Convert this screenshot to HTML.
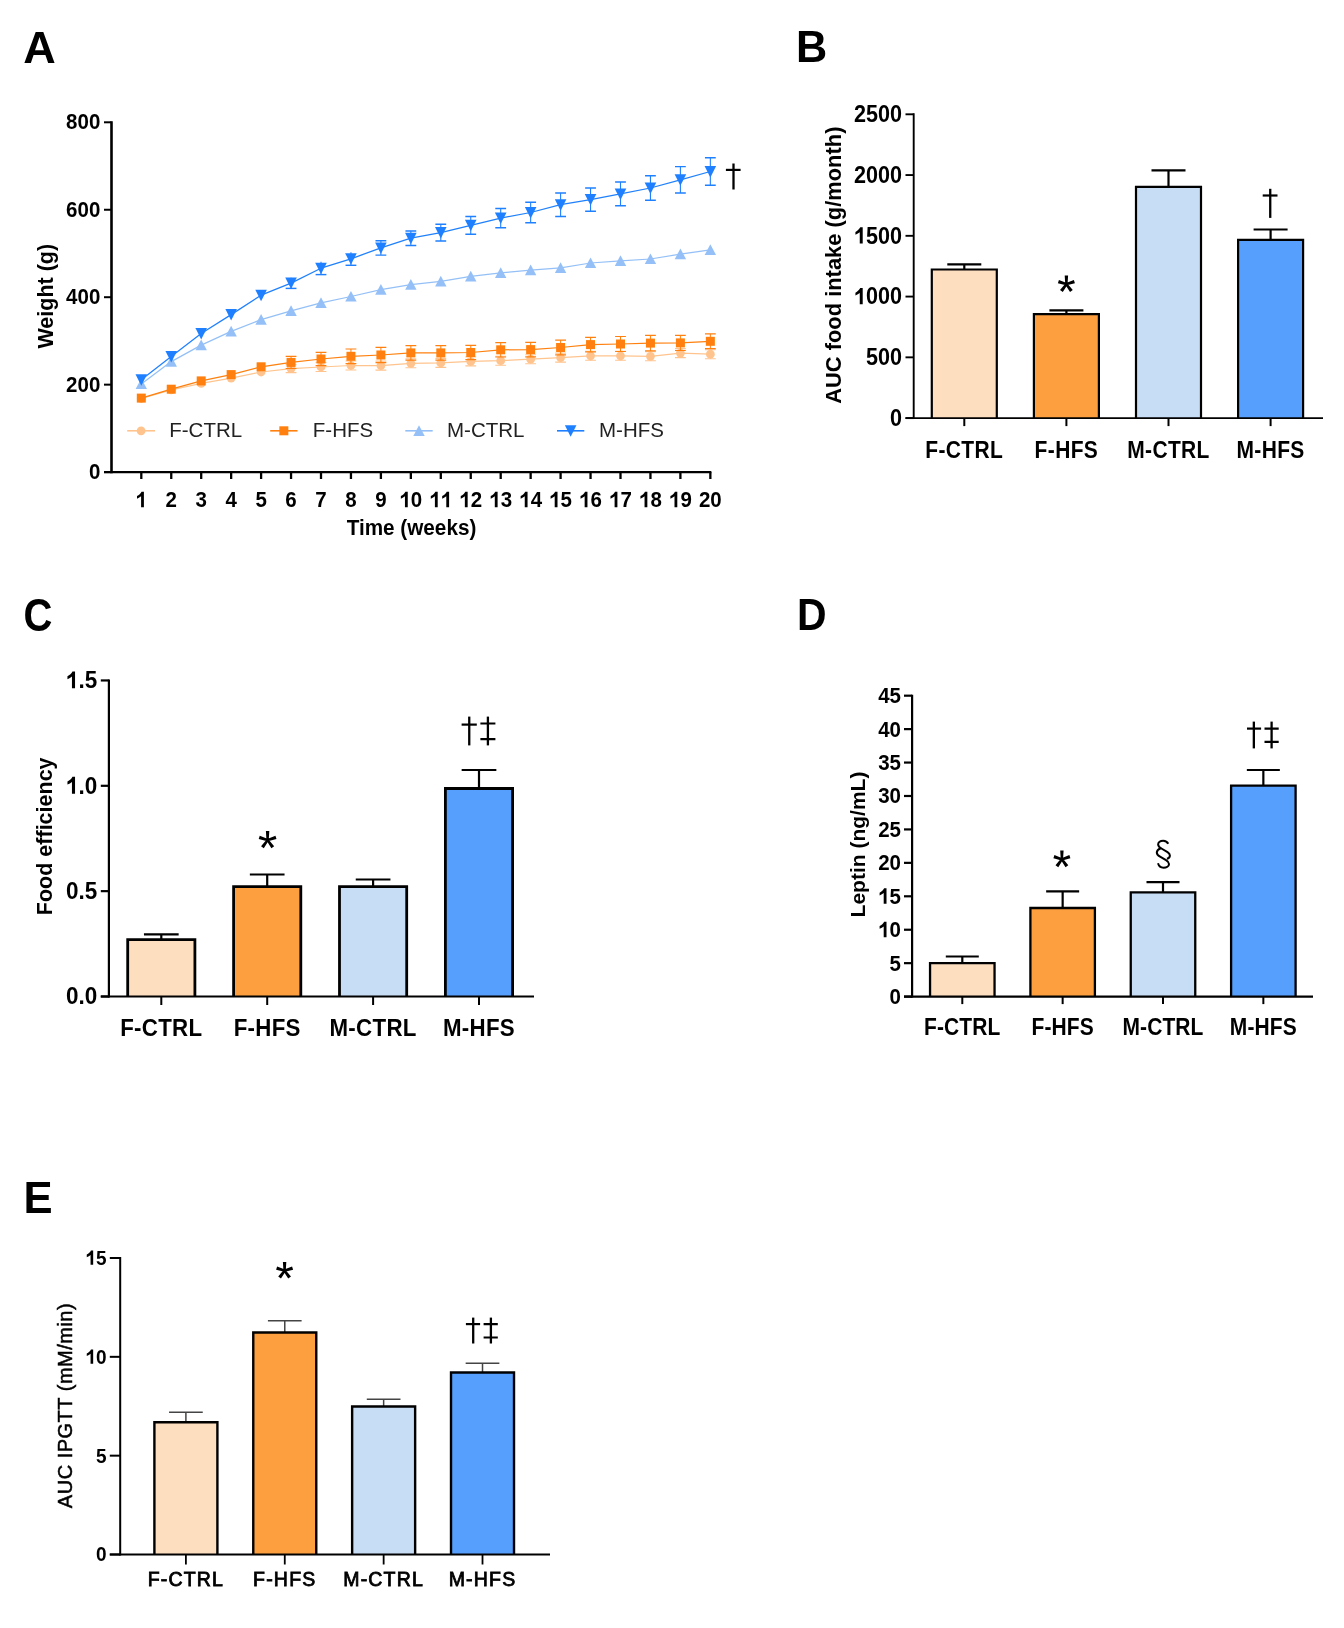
<!DOCTYPE html>
<html><head><meta charset="utf-8"><style>
html,body{margin:0;padding:0;background:#fff;}
svg{display:block;filter:blur(0.4px);}
text{font-family:"Liberation Sans", sans-serif;}
</style></head><body>
<svg width="1344" height="1628" viewBox="0 0 1344 1628">
<rect width="1344" height="1628" fill="#fff"/>
<text x="23.3" y="62.6" font-size="45" font-weight="bold" text-anchor="start" fill="#000">A</text>
<line x1="111.5" y1="121.3" x2="111.5" y2="473.3" stroke="#000" stroke-width="2.6" stroke-linecap="butt"/>
<line x1="104" y1="472.1" x2="711.35" y2="472.1" stroke="#000" stroke-width="2.3" stroke-linecap="butt"/>
<line x1="104" y1="472.1" x2="111.5" y2="472.1" stroke="#000" stroke-width="2" stroke-linecap="butt"/>
<text x="88.9" y="478.5" font-size="20.5" font-weight="bold" text-anchor="start" fill="#000" transform="translate(88.9 471.12) scale(1 1.08) translate(-88.9 -471.12)">0</text>
<line x1="104" y1="384.65" x2="111.5" y2="384.65" stroke="#000" stroke-width="2" stroke-linecap="butt"/>
<text x="66.11" y="391.05" font-size="20.5" font-weight="bold" text-anchor="start" fill="#000" transform="translate(66.11 383.67) scale(1 1.08) translate(-66.11 -383.67)">2</text>
<text x="77.5" y="391.05" font-size="20.5" font-weight="bold" text-anchor="start" fill="#000" transform="translate(77.5 383.67) scale(1 1.08) translate(-77.5 -383.67)">0</text>
<text x="88.9" y="391.05" font-size="20.5" font-weight="bold" text-anchor="start" fill="#000" transform="translate(88.9 383.67) scale(1 1.08) translate(-88.9 -383.67)">0</text>
<line x1="104" y1="297.2" x2="111.5" y2="297.2" stroke="#000" stroke-width="2" stroke-linecap="butt"/>
<text x="66.11" y="303.6" font-size="20.5" font-weight="bold" text-anchor="start" fill="#000" transform="translate(66.11 296.22) scale(1 1.08) translate(-66.11 -296.22)">4</text>
<text x="77.5" y="303.6" font-size="20.5" font-weight="bold" text-anchor="start" fill="#000" transform="translate(77.5 296.22) scale(1 1.08) translate(-77.5 -296.22)">0</text>
<text x="88.9" y="303.6" font-size="20.5" font-weight="bold" text-anchor="start" fill="#000" transform="translate(88.9 296.22) scale(1 1.08) translate(-88.9 -296.22)">0</text>
<line x1="104" y1="209.75" x2="111.5" y2="209.75" stroke="#000" stroke-width="2" stroke-linecap="butt"/>
<text x="66.11" y="216.15" font-size="20.5" font-weight="bold" text-anchor="start" fill="#000" transform="translate(66.11 208.77) scale(1 1.08) translate(-66.11 -208.77)">6</text>
<text x="77.5" y="216.15" font-size="20.5" font-weight="bold" text-anchor="start" fill="#000" transform="translate(77.5 208.77) scale(1 1.08) translate(-77.5 -208.77)">0</text>
<text x="88.9" y="216.15" font-size="20.5" font-weight="bold" text-anchor="start" fill="#000" transform="translate(88.9 208.77) scale(1 1.08) translate(-88.9 -208.77)">0</text>
<line x1="104" y1="122.3" x2="111.5" y2="122.3" stroke="#000" stroke-width="2" stroke-linecap="butt"/>
<text x="66.11" y="128.7" font-size="20.5" font-weight="bold" text-anchor="start" fill="#000" transform="translate(66.11 121.32) scale(1 1.08) translate(-66.11 -121.32)">8</text>
<text x="77.5" y="128.7" font-size="20.5" font-weight="bold" text-anchor="start" fill="#000" transform="translate(77.5 121.32) scale(1 1.08) translate(-77.5 -121.32)">0</text>
<text x="88.9" y="128.7" font-size="20.5" font-weight="bold" text-anchor="start" fill="#000" transform="translate(88.9 121.32) scale(1 1.08) translate(-88.9 -121.32)">0</text>
<line x1="141.3" y1="472.1" x2="141.3" y2="479" stroke="#000" stroke-width="2.3" stroke-linecap="butt"/>
<path d="M143.9 507.19V491.63H141.55C140.73 493.46 138.98 495.01 137 496.01V498.82C138.68 498.11 140.01 497.23 141.09 496.34V507.19Z" fill="#000"/>
<line x1="171.25" y1="472.1" x2="171.25" y2="479" stroke="#000" stroke-width="2.3" stroke-linecap="butt"/>
<text x="165.55" y="506.6" font-size="20.5" font-weight="bold" text-anchor="start" fill="#000" transform="translate(165.55 499.22) scale(1 1.08) translate(-165.55 -499.22)">2</text>
<line x1="201.2" y1="472.1" x2="201.2" y2="479" stroke="#000" stroke-width="2.3" stroke-linecap="butt"/>
<text x="195.5" y="506.6" font-size="20.5" font-weight="bold" text-anchor="start" fill="#000" transform="translate(195.5 499.22) scale(1 1.08) translate(-195.5 -499.22)">3</text>
<line x1="231.15" y1="472.1" x2="231.15" y2="479" stroke="#000" stroke-width="2.3" stroke-linecap="butt"/>
<text x="225.45" y="506.6" font-size="20.5" font-weight="bold" text-anchor="start" fill="#000" transform="translate(225.45 499.22) scale(1 1.08) translate(-225.45 -499.22)">4</text>
<line x1="261.1" y1="472.1" x2="261.1" y2="479" stroke="#000" stroke-width="2.3" stroke-linecap="butt"/>
<text x="255.4" y="506.6" font-size="20.5" font-weight="bold" text-anchor="start" fill="#000" transform="translate(255.4 499.22) scale(1 1.08) translate(-255.4 -499.22)">5</text>
<line x1="291.05" y1="472.1" x2="291.05" y2="479" stroke="#000" stroke-width="2.3" stroke-linecap="butt"/>
<text x="285.35" y="506.6" font-size="20.5" font-weight="bold" text-anchor="start" fill="#000" transform="translate(285.35 499.22) scale(1 1.08) translate(-285.35 -499.22)">6</text>
<line x1="321" y1="472.1" x2="321" y2="479" stroke="#000" stroke-width="2.3" stroke-linecap="butt"/>
<text x="315.3" y="506.6" font-size="20.5" font-weight="bold" text-anchor="start" fill="#000" transform="translate(315.3 499.22) scale(1 1.08) translate(-315.3 -499.22)">7</text>
<line x1="350.95" y1="472.1" x2="350.95" y2="479" stroke="#000" stroke-width="2.3" stroke-linecap="butt"/>
<text x="345.25" y="506.6" font-size="20.5" font-weight="bold" text-anchor="start" fill="#000" transform="translate(345.25 499.22) scale(1 1.08) translate(-345.25 -499.22)">8</text>
<line x1="380.9" y1="472.1" x2="380.9" y2="479" stroke="#000" stroke-width="2.3" stroke-linecap="butt"/>
<text x="375.2" y="506.6" font-size="20.5" font-weight="bold" text-anchor="start" fill="#000" transform="translate(375.2 499.22) scale(1 1.08) translate(-375.2 -499.22)">9</text>
<line x1="410.85" y1="472.1" x2="410.85" y2="479" stroke="#000" stroke-width="2.3" stroke-linecap="butt"/>
<path d="M407.75 507.19V491.63H405.4C404.58 493.46 402.83 495.01 400.85 496.01V498.82C402.53 498.11 403.86 497.23 404.95 496.34V507.19Z" fill="#000"/>
<text x="410.85" y="506.6" font-size="20.5" font-weight="bold" text-anchor="start" fill="#000" transform="translate(410.85 499.22) scale(1 1.08) translate(-410.85 -499.22)">0</text>
<line x1="440.8" y1="472.1" x2="440.8" y2="479" stroke="#000" stroke-width="2.3" stroke-linecap="butt"/>
<path d="M437.7 507.19V491.63H435.35C434.53 493.46 432.78 495.01 430.8 496.01V498.82C432.48 498.11 433.81 497.23 434.9 496.34V507.19Z" fill="#000"/>
<path d="M449.1 507.19V491.63H446.75C445.93 493.46 444.18 495.01 442.19 496.01V498.82C443.88 498.11 445.21 497.23 446.29 496.34V507.19Z" fill="#000"/>
<line x1="470.75" y1="472.1" x2="470.75" y2="479" stroke="#000" stroke-width="2.3" stroke-linecap="butt"/>
<path d="M467.65 507.19V491.63H465.3C464.48 493.46 462.73 495.01 460.75 496.01V498.82C462.43 498.11 463.76 497.23 464.85 496.34V507.19Z" fill="#000"/>
<text x="470.75" y="506.6" font-size="20.5" font-weight="bold" text-anchor="start" fill="#000" transform="translate(470.75 499.22) scale(1 1.08) translate(-470.75 -499.22)">2</text>
<line x1="500.7" y1="472.1" x2="500.7" y2="479" stroke="#000" stroke-width="2.3" stroke-linecap="butt"/>
<path d="M497.6 507.19V491.63H495.25C494.43 493.46 492.68 495.01 490.7 496.01V498.82C492.38 498.11 493.71 497.23 494.8 496.34V507.19Z" fill="#000"/>
<text x="500.7" y="506.6" font-size="20.5" font-weight="bold" text-anchor="start" fill="#000" transform="translate(500.7 499.22) scale(1 1.08) translate(-500.7 -499.22)">3</text>
<line x1="530.65" y1="472.1" x2="530.65" y2="479" stroke="#000" stroke-width="2.3" stroke-linecap="butt"/>
<path d="M527.55 507.19V491.63H525.2C524.38 493.46 522.63 495.01 520.65 496.01V498.82C522.33 498.11 523.66 497.23 524.75 496.34V507.19Z" fill="#000"/>
<text x="530.65" y="506.6" font-size="20.5" font-weight="bold" text-anchor="start" fill="#000" transform="translate(530.65 499.22) scale(1 1.08) translate(-530.65 -499.22)">4</text>
<line x1="560.6" y1="472.1" x2="560.6" y2="479" stroke="#000" stroke-width="2.3" stroke-linecap="butt"/>
<path d="M557.5 507.19V491.63H555.15C554.33 493.46 552.58 495.01 550.6 496.01V498.82C552.28 498.11 553.61 497.23 554.7 496.34V507.19Z" fill="#000"/>
<text x="560.6" y="506.6" font-size="20.5" font-weight="bold" text-anchor="start" fill="#000" transform="translate(560.6 499.22) scale(1 1.08) translate(-560.6 -499.22)">5</text>
<line x1="590.55" y1="472.1" x2="590.55" y2="479" stroke="#000" stroke-width="2.3" stroke-linecap="butt"/>
<path d="M587.45 507.19V491.63H585.1C584.28 493.46 582.53 495.01 580.55 496.01V498.82C582.23 498.11 583.56 497.23 584.65 496.34V507.19Z" fill="#000"/>
<text x="590.55" y="506.6" font-size="20.5" font-weight="bold" text-anchor="start" fill="#000" transform="translate(590.55 499.22) scale(1 1.08) translate(-590.55 -499.22)">6</text>
<line x1="620.5" y1="472.1" x2="620.5" y2="479" stroke="#000" stroke-width="2.3" stroke-linecap="butt"/>
<path d="M617.4 507.19V491.63H615.05C614.23 493.46 612.48 495.01 610.5 496.01V498.82C612.18 498.11 613.51 497.23 614.6 496.34V507.19Z" fill="#000"/>
<text x="620.5" y="506.6" font-size="20.5" font-weight="bold" text-anchor="start" fill="#000" transform="translate(620.5 499.22) scale(1 1.08) translate(-620.5 -499.22)">7</text>
<line x1="650.45" y1="472.1" x2="650.45" y2="479" stroke="#000" stroke-width="2.3" stroke-linecap="butt"/>
<path d="M647.35 507.19V491.63H645C644.18 493.46 642.43 495.01 640.45 496.01V498.82C642.13 498.11 643.46 497.23 644.55 496.34V507.19Z" fill="#000"/>
<text x="650.45" y="506.6" font-size="20.5" font-weight="bold" text-anchor="start" fill="#000" transform="translate(650.45 499.22) scale(1 1.08) translate(-650.45 -499.22)">8</text>
<line x1="680.4" y1="472.1" x2="680.4" y2="479" stroke="#000" stroke-width="2.3" stroke-linecap="butt"/>
<path d="M677.3 507.19V491.63H674.95C674.13 493.46 672.38 495.01 670.4 496.01V498.82C672.08 498.11 673.41 497.23 674.5 496.34V507.19Z" fill="#000"/>
<text x="680.4" y="506.6" font-size="20.5" font-weight="bold" text-anchor="start" fill="#000" transform="translate(680.4 499.22) scale(1 1.08) translate(-680.4 -499.22)">9</text>
<line x1="710.35" y1="472.1" x2="710.35" y2="479" stroke="#000" stroke-width="2.3" stroke-linecap="butt"/>
<text x="698.95" y="506.6" font-size="20.5" font-weight="bold" text-anchor="start" fill="#000" transform="translate(698.95 499.22) scale(1 1.08) translate(-698.95 -499.22)">2</text>
<text x="710.35" y="506.6" font-size="20.5" font-weight="bold" text-anchor="start" fill="#000" transform="translate(710.35 499.22) scale(1 1.08) translate(-710.35 -499.22)">0</text>
<text x="411.5" y="534.8" font-size="20.7" font-weight="bold" text-anchor="middle" fill="#000" transform="translate(411.5 527.35) scale(1 1.06) translate(-411.5 -527.35)">Time (weeks)</text>
<text x="53.2" y="296.2" font-size="21.5" font-weight="bold" text-anchor="middle" fill="#000" transform="rotate(-90 53.2 296.2)">Weight (g)</text>
<polyline points="141.3,398.5 171.25,389.8 201.2,383.4 231.15,378.1 261.1,372 291.05,368.6 321,367 350.95,365.5 380.9,365.6 410.85,363.3 440.8,362.9 470.75,361.4 500.7,360.7 530.65,359.2 560.6,357.6 590.55,355.8 620.5,355.8 650.45,356.3 680.4,353.1 710.35,354.2" fill="none" stroke="#FFC48E" stroke-width="1.25" stroke-linejoin="round"/>
<circle cx="141.3" cy="398.5" r="4.4" fill="#FFC48E"/>
<circle cx="171.25" cy="389.8" r="4.4" fill="#FFC48E"/>
<circle cx="201.2" cy="383.4" r="4.4" fill="#FFC48E"/>
<circle cx="231.15" cy="378.1" r="4.4" fill="#FFC48E"/>
<circle cx="261.1" cy="372" r="4.4" fill="#FFC48E"/>
<path d="M291.05 364.6V372.6" stroke="#FFC48E" stroke-width="1.0" fill="none"/>
<path d="M285.65 364.6H296.45M285.65 372.6H296.45" stroke="#FFC48E" stroke-width="1.1" fill="none"/>
<circle cx="291.05" cy="368.6" r="4.4" fill="#FFC48E"/>
<path d="M321 362.5V371.5" stroke="#FFC48E" stroke-width="1.0" fill="none"/>
<path d="M315.6 362.5H326.4M315.6 371.5H326.4" stroke="#FFC48E" stroke-width="1.1" fill="none"/>
<circle cx="321" cy="367" r="4.4" fill="#FFC48E"/>
<path d="M350.95 361V370" stroke="#FFC48E" stroke-width="1.0" fill="none"/>
<path d="M345.55 361H356.35M345.55 370H356.35" stroke="#FFC48E" stroke-width="1.1" fill="none"/>
<circle cx="350.95" cy="365.5" r="4.4" fill="#FFC48E"/>
<path d="M380.9 361.1V370.1" stroke="#FFC48E" stroke-width="1.0" fill="none"/>
<path d="M375.5 361.1H386.3M375.5 370.1H386.3" stroke="#FFC48E" stroke-width="1.1" fill="none"/>
<circle cx="380.9" cy="365.6" r="4.4" fill="#FFC48E"/>
<path d="M410.85 358.8V367.8" stroke="#FFC48E" stroke-width="1.0" fill="none"/>
<path d="M405.45 358.8H416.25M405.45 367.8H416.25" stroke="#FFC48E" stroke-width="1.1" fill="none"/>
<circle cx="410.85" cy="363.3" r="4.4" fill="#FFC48E"/>
<path d="M440.8 358.4V367.4" stroke="#FFC48E" stroke-width="1.0" fill="none"/>
<path d="M435.4 358.4H446.2M435.4 367.4H446.2" stroke="#FFC48E" stroke-width="1.1" fill="none"/>
<circle cx="440.8" cy="362.9" r="4.4" fill="#FFC48E"/>
<path d="M470.75 356.9V365.9" stroke="#FFC48E" stroke-width="1.0" fill="none"/>
<path d="M465.35 356.9H476.15M465.35 365.9H476.15" stroke="#FFC48E" stroke-width="1.1" fill="none"/>
<circle cx="470.75" cy="361.4" r="4.4" fill="#FFC48E"/>
<path d="M500.7 356.2V365.2" stroke="#FFC48E" stroke-width="1.0" fill="none"/>
<path d="M495.3 356.2H506.1M495.3 365.2H506.1" stroke="#FFC48E" stroke-width="1.1" fill="none"/>
<circle cx="500.7" cy="360.7" r="4.4" fill="#FFC48E"/>
<path d="M530.65 354.7V363.7" stroke="#FFC48E" stroke-width="1.0" fill="none"/>
<path d="M525.25 354.7H536.05M525.25 363.7H536.05" stroke="#FFC48E" stroke-width="1.1" fill="none"/>
<circle cx="530.65" cy="359.2" r="4.4" fill="#FFC48E"/>
<path d="M560.6 353.1V362.1" stroke="#FFC48E" stroke-width="1.0" fill="none"/>
<path d="M555.2 353.1H566M555.2 362.1H566" stroke="#FFC48E" stroke-width="1.1" fill="none"/>
<circle cx="560.6" cy="357.6" r="4.4" fill="#FFC48E"/>
<path d="M590.55 351.3V360.3" stroke="#FFC48E" stroke-width="1.0" fill="none"/>
<path d="M585.15 351.3H595.95M585.15 360.3H595.95" stroke="#FFC48E" stroke-width="1.1" fill="none"/>
<circle cx="590.55" cy="355.8" r="4.4" fill="#FFC48E"/>
<path d="M620.5 351.3V360.3" stroke="#FFC48E" stroke-width="1.0" fill="none"/>
<path d="M615.1 351.3H625.9M615.1 360.3H625.9" stroke="#FFC48E" stroke-width="1.1" fill="none"/>
<circle cx="620.5" cy="355.8" r="4.4" fill="#FFC48E"/>
<path d="M650.45 351.8V360.8" stroke="#FFC48E" stroke-width="1.0" fill="none"/>
<path d="M645.05 351.8H655.85M645.05 360.8H655.85" stroke="#FFC48E" stroke-width="1.1" fill="none"/>
<circle cx="650.45" cy="356.3" r="4.4" fill="#FFC48E"/>
<path d="M680.4 348.6V357.6" stroke="#FFC48E" stroke-width="1.0" fill="none"/>
<path d="M675 348.6H685.8M675 357.6H685.8" stroke="#FFC48E" stroke-width="1.1" fill="none"/>
<circle cx="680.4" cy="353.1" r="4.4" fill="#FFC48E"/>
<path d="M710.35 349.7V358.7" stroke="#FFC48E" stroke-width="1.0" fill="none"/>
<path d="M704.95 349.7H715.75M704.95 358.7H715.75" stroke="#FFC48E" stroke-width="1.1" fill="none"/>
<circle cx="710.35" cy="354.2" r="4.4" fill="#FFC48E"/>
<polyline points="141.3,398.1 171.25,389.2 201.2,380.9 231.15,374.6 261.1,366.8 291.05,362.4 321,359 350.95,356.3 380.9,355 410.85,352.9 440.8,352.9 470.75,352.5 500.7,349.8 530.65,349.6 560.6,347.5 590.55,344.6 620.5,344 650.45,343.1 680.4,342.9 710.35,341.3" fill="none" stroke="#FF800E" stroke-width="1.25" stroke-linejoin="round"/>
<rect x="136.8" y="393.6" width="9" height="9" fill="#FF800E"/>
<rect x="166.75" y="384.7" width="9" height="9" fill="#FF800E"/>
<rect x="196.7" y="376.4" width="9" height="9" fill="#FF800E"/>
<rect x="226.65" y="370.1" width="9" height="9" fill="#FF800E"/>
<rect x="256.6" y="362.3" width="9" height="9" fill="#FF800E"/>
<path d="M291.05 356.3V368.5" stroke="#FF800E" stroke-width="1.0" fill="none"/>
<path d="M285.65 356.3H296.45M285.65 368.5H296.45" stroke="#FF800E" stroke-width="1.2" fill="none"/>
<rect x="286.55" y="357.9" width="9" height="9" fill="#FF800E"/>
<path d="M321 352.3V365.7" stroke="#FF800E" stroke-width="1.0" fill="none"/>
<path d="M315.6 352.3H326.4M315.6 365.7H326.4" stroke="#FF800E" stroke-width="1.2" fill="none"/>
<rect x="316.5" y="354.5" width="9" height="9" fill="#FF800E"/>
<path d="M350.95 349V363.6" stroke="#FF800E" stroke-width="1.0" fill="none"/>
<path d="M345.55 349H356.35M345.55 363.6H356.35" stroke="#FF800E" stroke-width="1.2" fill="none"/>
<rect x="346.45" y="351.8" width="9" height="9" fill="#FF800E"/>
<path d="M380.9 347.4V362.6" stroke="#FF800E" stroke-width="1.0" fill="none"/>
<path d="M375.5 347.4H386.3M375.5 362.6H386.3" stroke="#FF800E" stroke-width="1.2" fill="none"/>
<rect x="376.4" y="350.5" width="9" height="9" fill="#FF800E"/>
<path d="M410.85 345.7V360.1" stroke="#FF800E" stroke-width="1.0" fill="none"/>
<path d="M405.45 345.7H416.25M405.45 360.1H416.25" stroke="#FF800E" stroke-width="1.2" fill="none"/>
<rect x="406.35" y="348.4" width="9" height="9" fill="#FF800E"/>
<path d="M440.8 345.7V360.1" stroke="#FF800E" stroke-width="1.0" fill="none"/>
<path d="M435.4 345.7H446.2M435.4 360.1H446.2" stroke="#FF800E" stroke-width="1.2" fill="none"/>
<rect x="436.3" y="348.4" width="9" height="9" fill="#FF800E"/>
<path d="M470.75 345.3V359.7" stroke="#FF800E" stroke-width="1.0" fill="none"/>
<path d="M465.35 345.3H476.15M465.35 359.7H476.15" stroke="#FF800E" stroke-width="1.2" fill="none"/>
<rect x="466.25" y="348" width="9" height="9" fill="#FF800E"/>
<path d="M500.7 342.6V357" stroke="#FF800E" stroke-width="1.0" fill="none"/>
<path d="M495.3 342.6H506.1M495.3 357H506.1" stroke="#FF800E" stroke-width="1.2" fill="none"/>
<rect x="496.2" y="345.3" width="9" height="9" fill="#FF800E"/>
<path d="M530.65 342.3V356.9" stroke="#FF800E" stroke-width="1.0" fill="none"/>
<path d="M525.25 342.3H536.05M525.25 356.9H536.05" stroke="#FF800E" stroke-width="1.2" fill="none"/>
<rect x="526.15" y="345.1" width="9" height="9" fill="#FF800E"/>
<path d="M560.6 340.2V354.8" stroke="#FF800E" stroke-width="1.0" fill="none"/>
<path d="M555.2 340.2H566M555.2 354.8H566" stroke="#FF800E" stroke-width="1.2" fill="none"/>
<rect x="556.1" y="343" width="9" height="9" fill="#FF800E"/>
<path d="M590.55 337.3V351.9" stroke="#FF800E" stroke-width="1.0" fill="none"/>
<path d="M585.15 337.3H595.95M585.15 351.9H595.95" stroke="#FF800E" stroke-width="1.2" fill="none"/>
<rect x="586.05" y="340.1" width="9" height="9" fill="#FF800E"/>
<path d="M620.5 336.5V351.5" stroke="#FF800E" stroke-width="1.0" fill="none"/>
<path d="M615.1 336.5H625.9M615.1 351.5H625.9" stroke="#FF800E" stroke-width="1.2" fill="none"/>
<rect x="616" y="339.5" width="9" height="9" fill="#FF800E"/>
<path d="M650.45 335.3V350.9" stroke="#FF800E" stroke-width="1.0" fill="none"/>
<path d="M645.05 335.3H655.85M645.05 350.9H655.85" stroke="#FF800E" stroke-width="1.2" fill="none"/>
<rect x="645.95" y="338.6" width="9" height="9" fill="#FF800E"/>
<path d="M680.4 335.3V350.5" stroke="#FF800E" stroke-width="1.0" fill="none"/>
<path d="M675 335.3H685.8M675 350.5H685.8" stroke="#FF800E" stroke-width="1.2" fill="none"/>
<rect x="675.9" y="338.4" width="9" height="9" fill="#FF800E"/>
<path d="M710.35 333.9V348.7" stroke="#FF800E" stroke-width="1.0" fill="none"/>
<path d="M704.95 333.9H715.75M704.95 348.7H715.75" stroke="#FF800E" stroke-width="1.2" fill="none"/>
<rect x="705.85" y="336.8" width="9" height="9" fill="#FF800E"/>
<polyline points="141.3,384 171.25,361.6 201.2,345.1 231.15,331.4 261.1,319.7 291.05,310.8 321,302.8 350.95,296.5 380.9,289.6 410.85,284.7 440.8,281.3 470.75,276.4 500.7,272.8 530.65,270.1 560.6,267.9 590.55,263 620.5,260.8 650.45,259 680.4,254.1 710.35,249.8" fill="none" stroke="#94C0F7" stroke-width="1.25" stroke-linejoin="round"/>
<path d="M141.3 378.4L147 389.1L135.6 389.1Z" fill="#94C0F7"/>
<path d="M171.25 356L176.95 366.7L165.55 366.7Z" fill="#94C0F7"/>
<path d="M201.2 339.5L206.9 350.2L195.5 350.2Z" fill="#94C0F7"/>
<path d="M231.15 325.8L236.85 336.5L225.45 336.5Z" fill="#94C0F7"/>
<path d="M261.1 314.1L266.8 324.8L255.4 324.8Z" fill="#94C0F7"/>
<path d="M291.05 305.2L296.75 315.9L285.35 315.9Z" fill="#94C0F7"/>
<path d="M321 297.2L326.7 307.9L315.3 307.9Z" fill="#94C0F7"/>
<path d="M350.95 290.9L356.65 301.6L345.25 301.6Z" fill="#94C0F7"/>
<path d="M380.9 284L386.6 294.7L375.2 294.7Z" fill="#94C0F7"/>
<path d="M410.85 279.1L416.55 289.8L405.15 289.8Z" fill="#94C0F7"/>
<path d="M440.8 275.7L446.5 286.4L435.1 286.4Z" fill="#94C0F7"/>
<path d="M470.75 270.8L476.45 281.5L465.05 281.5Z" fill="#94C0F7"/>
<path d="M500.7 267.2L506.4 277.9L495 277.9Z" fill="#94C0F7"/>
<path d="M530.65 264.5L536.35 275.2L524.95 275.2Z" fill="#94C0F7"/>
<path d="M560.6 262.3L566.3 273L554.9 273Z" fill="#94C0F7"/>
<path d="M590.55 257.4L596.25 268.1L584.85 268.1Z" fill="#94C0F7"/>
<path d="M620.5 255.2L626.2 265.9L614.8 265.9Z" fill="#94C0F7"/>
<path d="M650.45 253.4L656.15 264.1L644.75 264.1Z" fill="#94C0F7"/>
<path d="M680.4 248.5L686.1 259.2L674.7 259.2Z" fill="#94C0F7"/>
<path d="M710.35 244.2L716.05 254.9L704.65 254.9Z" fill="#94C0F7"/>
<polyline points="141.3,379.7 171.25,356.5 201.2,333.5 231.15,314.6 261.1,295.2 291.05,283.1 321,268.2 350.95,258.8 380.9,247.9 410.85,238.2 440.8,232.6 470.75,225.3 500.7,218.1 530.65,212.5 560.6,204.7 590.55,199.6 620.5,193.9 650.45,188 680.4,179.8 710.35,171.5" fill="none" stroke="#1F80FF" stroke-width="1.25" stroke-linejoin="round"/>
<path d="M135.5 374.2L147.1 374.2L141.3 385.7Z" fill="#1F80FF"/>
<path d="M165.45 351L177.05 351L171.25 362.5Z" fill="#1F80FF"/>
<path d="M195.4 328L207 328L201.2 339.5Z" fill="#1F80FF"/>
<path d="M225.35 309.1L236.95 309.1L231.15 320.6Z" fill="#1F80FF"/>
<path d="M255.3 289.7L266.9 289.7L261.1 301.2Z" fill="#1F80FF"/>
<path d="M291.05 277.8V288.4" stroke="#1F80FF" stroke-width="1.1" fill="none"/>
<path d="M285.65 288.4H296.45" stroke="#1F80FF" stroke-width="1.45" fill="none"/>
<path d="M285.25 277.6L296.85 277.6L291.05 289.1Z" fill="#1F80FF"/>
<path d="M321 261.8V274.6" stroke="#1F80FF" stroke-width="1.1" fill="none"/>
<path d="M315.6 274.6H326.4" stroke="#1F80FF" stroke-width="1.45" fill="none"/>
<path d="M315.2 262.7L326.8 262.7L321 274.2Z" fill="#1F80FF"/>
<path d="M350.95 252.3V265.3" stroke="#1F80FF" stroke-width="1.1" fill="none"/>
<path d="M345.55 265.3H356.35" stroke="#1F80FF" stroke-width="1.45" fill="none"/>
<path d="M345.15 253.3L356.75 253.3L350.95 264.8Z" fill="#1F80FF"/>
<path d="M380.9 240.7V255.1" stroke="#1F80FF" stroke-width="1.1" fill="none"/>
<path d="M375.5 240.7H386.3M375.5 255.1H386.3" stroke="#1F80FF" stroke-width="1.45" fill="none"/>
<path d="M375.1 242.4L386.7 242.4L380.9 253.9Z" fill="#1F80FF"/>
<path d="M410.85 230.9V245.5" stroke="#1F80FF" stroke-width="1.1" fill="none"/>
<path d="M405.45 230.9H416.25M405.45 245.5H416.25" stroke="#1F80FF" stroke-width="1.45" fill="none"/>
<path d="M405.05 232.7L416.65 232.7L410.85 244.2Z" fill="#1F80FF"/>
<path d="M440.8 224.3V240.9" stroke="#1F80FF" stroke-width="1.1" fill="none"/>
<path d="M435.4 224.3H446.2M435.4 240.9H446.2" stroke="#1F80FF" stroke-width="1.45" fill="none"/>
<path d="M435 227.1L446.6 227.1L440.8 238.6Z" fill="#1F80FF"/>
<path d="M470.75 216.4V234.2" stroke="#1F80FF" stroke-width="1.1" fill="none"/>
<path d="M465.35 216.4H476.15M465.35 234.2H476.15" stroke="#1F80FF" stroke-width="1.45" fill="none"/>
<path d="M464.95 219.8L476.55 219.8L470.75 231.3Z" fill="#1F80FF"/>
<path d="M500.7 208.4V227.8" stroke="#1F80FF" stroke-width="1.1" fill="none"/>
<path d="M495.3 208.4H506.1M495.3 227.8H506.1" stroke="#1F80FF" stroke-width="1.45" fill="none"/>
<path d="M494.9 212.6L506.5 212.6L500.7 224.1Z" fill="#1F80FF"/>
<path d="M530.65 202.3V222.7" stroke="#1F80FF" stroke-width="1.1" fill="none"/>
<path d="M525.25 202.3H536.05M525.25 222.7H536.05" stroke="#1F80FF" stroke-width="1.45" fill="none"/>
<path d="M524.85 207L536.45 207L530.65 218.5Z" fill="#1F80FF"/>
<path d="M560.6 192.9V216.5" stroke="#1F80FF" stroke-width="1.1" fill="none"/>
<path d="M555.2 192.9H566M555.2 216.5H566" stroke="#1F80FF" stroke-width="1.45" fill="none"/>
<path d="M554.8 199.2L566.4 199.2L560.6 210.7Z" fill="#1F80FF"/>
<path d="M590.55 188V211.2" stroke="#1F80FF" stroke-width="1.1" fill="none"/>
<path d="M585.15 188H595.95M585.15 211.2H595.95" stroke="#1F80FF" stroke-width="1.45" fill="none"/>
<path d="M584.75 194.1L596.35 194.1L590.55 205.6Z" fill="#1F80FF"/>
<path d="M620.5 182V205.8" stroke="#1F80FF" stroke-width="1.1" fill="none"/>
<path d="M615.1 182H625.9M615.1 205.8H625.9" stroke="#1F80FF" stroke-width="1.45" fill="none"/>
<path d="M614.7 188.4L626.3 188.4L620.5 199.9Z" fill="#1F80FF"/>
<path d="M650.45 175.8V200.2" stroke="#1F80FF" stroke-width="1.1" fill="none"/>
<path d="M645.05 175.8H655.85M645.05 200.2H655.85" stroke="#1F80FF" stroke-width="1.45" fill="none"/>
<path d="M644.65 182.5L656.25 182.5L650.45 194Z" fill="#1F80FF"/>
<path d="M680.4 166.6V193" stroke="#1F80FF" stroke-width="1.1" fill="none"/>
<path d="M675 166.6H685.8M675 193H685.8" stroke="#1F80FF" stroke-width="1.45" fill="none"/>
<path d="M674.6 174.3L686.2 174.3L680.4 185.8Z" fill="#1F80FF"/>
<path d="M710.35 157.8V185.2" stroke="#1F80FF" stroke-width="1.1" fill="none"/>
<path d="M704.95 157.8H715.75M704.95 185.2H715.75" stroke="#1F80FF" stroke-width="1.45" fill="none"/>
<path d="M704.55 166L716.15 166L710.35 177.5Z" fill="#1F80FF"/>
<path d="M733.5 163.5V189.5" stroke="#000" stroke-width="2.3"/>
<path d="M725.9 169.9H740.6" stroke="#000" stroke-width="2.2"/>
<line x1="127.2" y1="430.8" x2="155" y2="430.8" stroke="#FFC48E" stroke-width="1.6" stroke-linecap="butt"/>
<circle cx="141.1" cy="430.8" r="4.4" fill="#FFC48E"/>
<text x="169.3" y="437.1" font-size="20.5" font-weight="normal" text-anchor="start" fill="#222" transform="translate(169.3 429.72) scale(1 1.03) translate(-169.3 -429.72)">F-CTRL</text>
<line x1="270.2" y1="430.8" x2="297.5" y2="430.8" stroke="#FF800E" stroke-width="1.6" stroke-linecap="butt"/>
<rect x="279.35" y="426.3" width="9" height="9" fill="#FF800E"/>
<text x="312.8" y="437.1" font-size="20.5" font-weight="normal" text-anchor="start" fill="#222" transform="translate(312.8 429.72) scale(1 1.03) translate(-312.8 -429.72)">F-HFS</text>
<line x1="405.3" y1="430.8" x2="432.7" y2="430.8" stroke="#94C0F7" stroke-width="1.6" stroke-linecap="butt"/>
<path d="M419 425.2L424.7 435.9L413.3 435.9Z" fill="#94C0F7"/>
<text x="447" y="437.1" font-size="20.5" font-weight="normal" text-anchor="start" fill="#222" transform="translate(447 429.72) scale(1 1.03) translate(-447 -429.72)">M-CTRL</text>
<line x1="557" y1="430.8" x2="584.3" y2="430.8" stroke="#1F80FF" stroke-width="1.6" stroke-linecap="butt"/>
<path d="M564.85 425.3L576.45 425.3L570.65 436.8Z" fill="#1F80FF"/>
<text x="599" y="437.1" font-size="20.5" font-weight="normal" text-anchor="start" fill="#222" transform="translate(599 429.72) scale(1 1.03) translate(-599 -429.72)">M-HFS</text>
<text x="796" y="62.3" font-size="45" font-weight="bold" text-anchor="start" fill="#000" transform="translate(796 46.1) scale(0.96 1.0) translate(-796 -46.1)">B</text>
<line x1="964.3" y1="269.5" x2="964.3" y2="264.4" stroke="#000" stroke-width="2.2" stroke-linecap="butt"/>
<line x1="947.3" y1="264.4" x2="981.3" y2="264.4" stroke="#000" stroke-width="2.2" stroke-linecap="butt"/>
<rect x="931.8" y="269.5" width="65" height="148.6" fill="#FDDFC0"/>
<path d="M931.8 418.1V269.5H996.8V418.1" fill="none" stroke="#000" stroke-width="2.2" stroke-linejoin="miter"/>
<line x1="964.3" y1="418.1" x2="964.3" y2="426.1" stroke="#000" stroke-width="2" stroke-linecap="butt"/>
<text x="964.3" y="457.4" font-size="21" font-weight="bold" text-anchor="middle" fill="#000" letter-spacing="0.35" transform="translate(964.3 449.84) scale(1 1.1) translate(-964.3 -449.84)">F-CTRL</text>
<line x1="1066.4" y1="314.2" x2="1066.4" y2="310.3" stroke="#000" stroke-width="2.2" stroke-linecap="butt"/>
<line x1="1049.4" y1="310.3" x2="1083.4" y2="310.3" stroke="#000" stroke-width="2.2" stroke-linecap="butt"/>
<rect x="1033.9" y="314.2" width="65" height="103.9" fill="#FD9E3F"/>
<path d="M1033.9 418.1V314.2H1098.9V418.1" fill="none" stroke="#000" stroke-width="2.2" stroke-linejoin="miter"/>
<line x1="1066.4" y1="418.1" x2="1066.4" y2="426.1" stroke="#000" stroke-width="2" stroke-linecap="butt"/>
<text x="1066.4" y="457.4" font-size="21" font-weight="bold" text-anchor="middle" fill="#000" letter-spacing="0.35" transform="translate(1066.4 449.84) scale(1 1.1) translate(-1066.4 -449.84)">F-HFS</text>
<line x1="1168.5" y1="186.8" x2="1168.5" y2="170.4" stroke="#000" stroke-width="2.2" stroke-linecap="butt"/>
<line x1="1151.5" y1="170.4" x2="1185.5" y2="170.4" stroke="#000" stroke-width="2.2" stroke-linecap="butt"/>
<rect x="1136" y="186.8" width="65" height="231.3" fill="#C7DCF5"/>
<path d="M1136 418.1V186.8H1201V418.1" fill="none" stroke="#000" stroke-width="2.2" stroke-linejoin="miter"/>
<line x1="1168.5" y1="418.1" x2="1168.5" y2="426.1" stroke="#000" stroke-width="2" stroke-linecap="butt"/>
<text x="1168.5" y="457.4" font-size="21" font-weight="bold" text-anchor="middle" fill="#000" letter-spacing="0.35" transform="translate(1168.5 449.84) scale(1 1.1) translate(-1168.5 -449.84)">M-CTRL</text>
<line x1="1270.6" y1="239.9" x2="1270.6" y2="229.5" stroke="#000" stroke-width="2.2" stroke-linecap="butt"/>
<line x1="1253.6" y1="229.5" x2="1287.6" y2="229.5" stroke="#000" stroke-width="2.2" stroke-linecap="butt"/>
<rect x="1238.1" y="239.9" width="65" height="178.2" fill="#579FFD"/>
<path d="M1238.1 418.1V239.9H1303.1V418.1" fill="none" stroke="#000" stroke-width="2.2" stroke-linejoin="miter"/>
<line x1="1270.6" y1="418.1" x2="1270.6" y2="426.1" stroke="#000" stroke-width="2" stroke-linecap="butt"/>
<text x="1270.6" y="457.4" font-size="21" font-weight="bold" text-anchor="middle" fill="#000" letter-spacing="0.35" transform="translate(1270.6 449.84) scale(1 1.1) translate(-1270.6 -449.84)">M-HFS</text>
<line x1="913.7" y1="113.3" x2="913.7" y2="419.1" stroke="#000" stroke-width="1.9" stroke-linecap="butt"/>
<line x1="905.5" y1="418.1" x2="1323" y2="418.1" stroke="#000" stroke-width="1.9" stroke-linecap="butt"/>
<line x1="905.5" y1="418.1" x2="913.7" y2="418.1" stroke="#000" stroke-width="1.9" stroke-linecap="butt"/>
<text x="889.99" y="425.3" font-size="21.6" font-weight="bold" text-anchor="start" fill="#000" transform="translate(889.99 417.52) scale(1 1.07) translate(-889.99 -417.52)">0</text>
<line x1="905.5" y1="357.34" x2="913.7" y2="357.34" stroke="#000" stroke-width="1.9" stroke-linecap="butt"/>
<text x="865.97" y="364.54" font-size="21.6" font-weight="bold" text-anchor="start" fill="#000" transform="translate(865.97 356.76) scale(1 1.07) translate(-865.97 -356.76)">5</text>
<text x="877.98" y="364.54" font-size="21.6" font-weight="bold" text-anchor="start" fill="#000" transform="translate(877.98 356.76) scale(1 1.07) translate(-877.98 -356.76)">0</text>
<text x="889.99" y="364.54" font-size="21.6" font-weight="bold" text-anchor="start" fill="#000" transform="translate(889.99 356.76) scale(1 1.07) translate(-889.99 -356.76)">0</text>
<line x1="905.5" y1="296.58" x2="913.7" y2="296.58" stroke="#000" stroke-width="1.9" stroke-linecap="butt"/>
<path d="M862.71 304.32V288.08H860.23C859.36 289.99 857.53 291.61 855.43 292.65V295.59C857.2 294.85 858.61 293.92 859.75 293V304.32Z" fill="#000"/>
<text x="865.97" y="303.78" font-size="21.6" font-weight="bold" text-anchor="start" fill="#000" transform="translate(865.97 296) scale(1 1.07) translate(-865.97 -296)">0</text>
<text x="877.98" y="303.78" font-size="21.6" font-weight="bold" text-anchor="start" fill="#000" transform="translate(877.98 296) scale(1 1.07) translate(-877.98 -296)">0</text>
<text x="889.99" y="303.78" font-size="21.6" font-weight="bold" text-anchor="start" fill="#000" transform="translate(889.99 296) scale(1 1.07) translate(-889.99 -296)">0</text>
<line x1="905.5" y1="235.82" x2="913.7" y2="235.82" stroke="#000" stroke-width="1.9" stroke-linecap="butt"/>
<path d="M862.71 243.56V227.32H860.23C859.36 229.23 857.53 230.85 855.43 231.89V234.83C857.2 234.09 858.61 233.16 859.75 232.24V243.56Z" fill="#000"/>
<text x="865.97" y="243.02" font-size="21.6" font-weight="bold" text-anchor="start" fill="#000" transform="translate(865.97 235.24) scale(1 1.07) translate(-865.97 -235.24)">5</text>
<text x="877.98" y="243.02" font-size="21.6" font-weight="bold" text-anchor="start" fill="#000" transform="translate(877.98 235.24) scale(1 1.07) translate(-877.98 -235.24)">0</text>
<text x="889.99" y="243.02" font-size="21.6" font-weight="bold" text-anchor="start" fill="#000" transform="translate(889.99 235.24) scale(1 1.07) translate(-889.99 -235.24)">0</text>
<line x1="905.5" y1="175.06" x2="913.7" y2="175.06" stroke="#000" stroke-width="1.9" stroke-linecap="butt"/>
<text x="853.96" y="182.26" font-size="21.6" font-weight="bold" text-anchor="start" fill="#000" transform="translate(853.96 174.48) scale(1 1.07) translate(-853.96 -174.48)">2</text>
<text x="865.97" y="182.26" font-size="21.6" font-weight="bold" text-anchor="start" fill="#000" transform="translate(865.97 174.48) scale(1 1.07) translate(-865.97 -174.48)">0</text>
<text x="877.98" y="182.26" font-size="21.6" font-weight="bold" text-anchor="start" fill="#000" transform="translate(877.98 174.48) scale(1 1.07) translate(-877.98 -174.48)">0</text>
<text x="889.99" y="182.26" font-size="21.6" font-weight="bold" text-anchor="start" fill="#000" transform="translate(889.99 174.48) scale(1 1.07) translate(-889.99 -174.48)">0</text>
<line x1="905.5" y1="114.3" x2="913.7" y2="114.3" stroke="#000" stroke-width="1.9" stroke-linecap="butt"/>
<text x="853.96" y="121.5" font-size="21.6" font-weight="bold" text-anchor="start" fill="#000" transform="translate(853.96 113.72) scale(1 1.07) translate(-853.96 -113.72)">2</text>
<text x="865.97" y="121.5" font-size="21.6" font-weight="bold" text-anchor="start" fill="#000" transform="translate(865.97 113.72) scale(1 1.07) translate(-865.97 -113.72)">5</text>
<text x="877.98" y="121.5" font-size="21.6" font-weight="bold" text-anchor="start" fill="#000" transform="translate(877.98 113.72) scale(1 1.07) translate(-877.98 -113.72)">0</text>
<text x="889.99" y="121.5" font-size="21.6" font-weight="bold" text-anchor="start" fill="#000" transform="translate(889.99 113.72) scale(1 1.07) translate(-889.99 -113.72)">0</text>
<text x="840.8" y="265.2" font-size="21.9" font-weight="bold" text-anchor="middle" fill="#000" transform="rotate(-90 840.8 265.2)">AUC food intake (g/month)</text>
<path d="M1067.55 284.2L1068.1 275.4L1064.7 275.4L1065.25 284.2ZM1066.76 285.29L1074.91 283.22L1073.86 279.99L1066.04 283.11ZM1065.47 284.88L1070.02 292.08L1072.77 290.08L1067.33 283.52ZM1065.47 283.52L1060.03 290.08L1062.78 292.08L1067.33 284.88ZM1066.76 283.11L1058.94 279.99L1057.89 283.22L1066.04 285.29Z" fill="#000"/>
<circle cx="1066.4" cy="284.2" r="1.3" fill="#000"/>
<path d="M1270.24 188.8V217.9" stroke="#000" stroke-width="2.3"/>
<path d="M1262.7 195.5H1277.5" stroke="#000" stroke-width="2.2"/>
<text x="23.6" y="630.5" font-size="45" font-weight="bold" text-anchor="start" fill="#000" transform="translate(23.6 614.3) scale(0.89 1.01) translate(-23.6 -614.3)">C</text>
<line x1="161.3" y1="939.6" x2="161.3" y2="934.3" stroke="#000" stroke-width="2.2" stroke-linecap="butt"/>
<line x1="143.95" y1="934.3" x2="178.65" y2="934.3" stroke="#000" stroke-width="2.2" stroke-linecap="butt"/>
<rect x="127.7" y="939.6" width="67.2" height="56.9" fill="#FDDFC0"/>
<path d="M127.7 996.5V939.6H194.9V996.5" fill="none" stroke="#000" stroke-width="2.8" stroke-linejoin="miter"/>
<line x1="161.3" y1="996.5" x2="161.3" y2="1005" stroke="#000" stroke-width="2" stroke-linecap="butt"/>
<text x="161.3" y="1035.2" font-size="22.3" font-weight="bold" text-anchor="middle" fill="#000" letter-spacing="0.3" transform="translate(161.3 1027.17) scale(1 1.07) translate(-161.3 -1027.17)">F-CTRL</text>
<line x1="267.2" y1="886.6" x2="267.2" y2="874.5" stroke="#000" stroke-width="2.2" stroke-linecap="butt"/>
<line x1="249.85" y1="874.5" x2="284.55" y2="874.5" stroke="#000" stroke-width="2.2" stroke-linecap="butt"/>
<rect x="233.6" y="886.6" width="67.2" height="109.9" fill="#FD9E3F"/>
<path d="M233.6 996.5V886.6H300.8V996.5" fill="none" stroke="#000" stroke-width="2.8" stroke-linejoin="miter"/>
<line x1="267.2" y1="996.5" x2="267.2" y2="1005" stroke="#000" stroke-width="2" stroke-linecap="butt"/>
<text x="267.2" y="1035.2" font-size="22.3" font-weight="bold" text-anchor="middle" fill="#000" letter-spacing="0.3" transform="translate(267.2 1027.17) scale(1 1.07) translate(-267.2 -1027.17)">F-HFS</text>
<line x1="373.1" y1="886.6" x2="373.1" y2="879.5" stroke="#000" stroke-width="2.2" stroke-linecap="butt"/>
<line x1="355.75" y1="879.5" x2="390.45" y2="879.5" stroke="#000" stroke-width="2.2" stroke-linecap="butt"/>
<rect x="339.5" y="886.6" width="67.2" height="109.9" fill="#C7DCF5"/>
<path d="M339.5 996.5V886.6H406.7V996.5" fill="none" stroke="#000" stroke-width="2.8" stroke-linejoin="miter"/>
<line x1="373.1" y1="996.5" x2="373.1" y2="1005" stroke="#000" stroke-width="2" stroke-linecap="butt"/>
<text x="373.1" y="1035.2" font-size="22.3" font-weight="bold" text-anchor="middle" fill="#000" letter-spacing="0.3" transform="translate(373.1 1027.17) scale(1 1.07) translate(-373.1 -1027.17)">M-CTRL</text>
<line x1="479" y1="788.5" x2="479" y2="770" stroke="#000" stroke-width="2.2" stroke-linecap="butt"/>
<line x1="461.65" y1="770" x2="496.35" y2="770" stroke="#000" stroke-width="2.2" stroke-linecap="butt"/>
<rect x="445.4" y="788.5" width="67.2" height="208" fill="#579FFD"/>
<path d="M445.4 996.5V788.5H512.6V996.5" fill="none" stroke="#000" stroke-width="2.8" stroke-linejoin="miter"/>
<line x1="479" y1="996.5" x2="479" y2="1005" stroke="#000" stroke-width="2" stroke-linecap="butt"/>
<text x="479" y="1035.2" font-size="22.3" font-weight="bold" text-anchor="middle" fill="#000" letter-spacing="0.3" transform="translate(479 1027.17) scale(1 1.07) translate(-479 -1027.17)">M-HFS</text>
<line x1="108.9" y1="679.45" x2="108.9" y2="997.5" stroke="#000" stroke-width="2.2" stroke-linecap="butt"/>
<line x1="100.8" y1="996.5" x2="534" y2="996.5" stroke="#000" stroke-width="2.2" stroke-linecap="butt"/>
<line x1="100.8" y1="996.5" x2="108.9" y2="996.5" stroke="#000" stroke-width="2.2" stroke-linecap="butt"/>
<text x="65.92" y="1003.85" font-size="22.5" font-weight="bold" text-anchor="start" fill="#000" transform="translate(65.92 995.75) scale(1 1.07) translate(-65.92 -995.75)">0</text>
<text x="78.44" y="1003.85" font-size="22.5" font-weight="bold" text-anchor="start" fill="#000" transform="translate(78.44 995.75) scale(1 1.07) translate(-78.44 -995.75)">.</text>
<text x="84.69" y="1003.85" font-size="22.5" font-weight="bold" text-anchor="start" fill="#000" transform="translate(84.69 995.75) scale(1 1.07) translate(-84.69 -995.75)">0</text>
<line x1="100.8" y1="891.15" x2="108.9" y2="891.15" stroke="#000" stroke-width="2.2" stroke-linecap="butt"/>
<text x="65.92" y="898.5" font-size="22.5" font-weight="bold" text-anchor="start" fill="#000" transform="translate(65.92 890.4) scale(1 1.07) translate(-65.92 -890.4)">0</text>
<text x="78.44" y="898.5" font-size="22.5" font-weight="bold" text-anchor="start" fill="#000" transform="translate(78.44 890.4) scale(1 1.07) translate(-78.44 -890.4)">.</text>
<text x="84.69" y="898.5" font-size="22.5" font-weight="bold" text-anchor="start" fill="#000" transform="translate(84.69 890.4) scale(1 1.07) translate(-84.69 -890.4)">5</text>
<line x1="100.8" y1="785.8" x2="108.9" y2="785.8" stroke="#000" stroke-width="2.2" stroke-linecap="butt"/>
<path d="M75.04 793.72V776.79H72.45C71.55 778.79 69.64 780.48 67.45 781.56V784.62C69.3 783.85 70.76 782.88 71.95 781.92V793.72Z" fill="#000"/>
<text x="78.44" y="793.15" font-size="22.5" font-weight="bold" text-anchor="start" fill="#000" transform="translate(78.44 785.05) scale(1 1.07) translate(-78.44 -785.05)">.</text>
<text x="84.69" y="793.15" font-size="22.5" font-weight="bold" text-anchor="start" fill="#000" transform="translate(84.69 785.05) scale(1 1.07) translate(-84.69 -785.05)">0</text>
<line x1="100.8" y1="680.45" x2="108.9" y2="680.45" stroke="#000" stroke-width="2.2" stroke-linecap="butt"/>
<path d="M75.04 688.37V671.44H72.45C71.55 673.44 69.64 675.13 67.45 676.21V679.27C69.3 678.5 70.76 677.53 71.95 676.57V688.37Z" fill="#000"/>
<text x="78.44" y="687.8" font-size="22.5" font-weight="bold" text-anchor="start" fill="#000" transform="translate(78.44 679.7) scale(1 1.07) translate(-78.44 -679.7)">.</text>
<text x="84.69" y="687.8" font-size="22.5" font-weight="bold" text-anchor="start" fill="#000" transform="translate(84.69 679.7) scale(1 1.07) translate(-84.69 -679.7)">5</text>
<text x="52" y="836.3" font-size="21.5" font-weight="bold" text-anchor="middle" fill="#000" transform="rotate(-90 52 836.3)">Food efficiency</text>
<path d="M268.75 840.1L269.3 831.1L265.9 831.1L266.45 840.1ZM267.96 841.19L276.49 839L275.44 835.76L267.24 839.01ZM266.67 840.78L271.4 848.22L274.15 846.22L268.53 839.42ZM266.67 839.42L261.05 846.22L263.8 848.22L268.53 840.78ZM267.96 839.01L259.76 835.76L258.71 839L267.24 841.19Z" fill="#000"/>
<circle cx="267.6" cy="840.1" r="1.3" fill="#000"/>
<path d="M469.25 716.6V745.4" stroke="#000" stroke-width="2.3"/>
<path d="M461.6 724.6H476.8" stroke="#000" stroke-width="2.2"/>
<path d="M487.9 716.6V745.4" stroke="#000" stroke-width="2.3"/>
<path d="M480.4 723.5H495.4M480.4 739.2H495.4" stroke="#000" stroke-width="2.2"/>
<text x="797" y="630.5" font-size="45" font-weight="bold" text-anchor="start" fill="#000" transform="translate(797 614.3) scale(0.91 1.0) translate(-797 -614.3)">D</text>
<line x1="962.3" y1="963.1" x2="962.3" y2="956.5" stroke="#000" stroke-width="2.2" stroke-linecap="butt"/>
<line x1="945.8" y1="956.5" x2="978.8" y2="956.5" stroke="#000" stroke-width="2.2" stroke-linecap="butt"/>
<rect x="930.05" y="963.1" width="64.5" height="33.5" fill="#FDDFC0"/>
<path d="M930.05 996.6V963.1H994.55V996.6" fill="none" stroke="#000" stroke-width="2.3" stroke-linejoin="miter"/>
<line x1="962.3" y1="996.6" x2="962.3" y2="1004.1" stroke="#000" stroke-width="2" stroke-linecap="butt"/>
<text x="962.3" y="1033.9" font-size="21" font-weight="bold" text-anchor="middle" fill="#000" letter-spacing="0.1" transform="translate(962.3 1026.34) scale(1 1.1) translate(-962.3 -1026.34)">F-CTRL</text>
<line x1="1062.65" y1="908" x2="1062.65" y2="891.3" stroke="#000" stroke-width="2.2" stroke-linecap="butt"/>
<line x1="1046.15" y1="891.3" x2="1079.15" y2="891.3" stroke="#000" stroke-width="2.2" stroke-linecap="butt"/>
<rect x="1030.4" y="908" width="64.5" height="88.6" fill="#FD9E3F"/>
<path d="M1030.4 996.6V908H1094.9V996.6" fill="none" stroke="#000" stroke-width="2.3" stroke-linejoin="miter"/>
<line x1="1062.65" y1="996.6" x2="1062.65" y2="1004.1" stroke="#000" stroke-width="2" stroke-linecap="butt"/>
<text x="1062.65" y="1033.9" font-size="21" font-weight="bold" text-anchor="middle" fill="#000" letter-spacing="0.1" transform="translate(1062.65 1026.34) scale(1 1.1) translate(-1062.65 -1026.34)">F-HFS</text>
<line x1="1163" y1="892.3" x2="1163" y2="882.1" stroke="#000" stroke-width="2.2" stroke-linecap="butt"/>
<line x1="1146.5" y1="882.1" x2="1179.5" y2="882.1" stroke="#000" stroke-width="2.2" stroke-linecap="butt"/>
<rect x="1130.75" y="892.3" width="64.5" height="104.3" fill="#C7DCF5"/>
<path d="M1130.75 996.6V892.3H1195.25V996.6" fill="none" stroke="#000" stroke-width="2.3" stroke-linejoin="miter"/>
<line x1="1163" y1="996.6" x2="1163" y2="1004.1" stroke="#000" stroke-width="2" stroke-linecap="butt"/>
<text x="1163" y="1033.9" font-size="21" font-weight="bold" text-anchor="middle" fill="#000" letter-spacing="0.1" transform="translate(1163 1026.34) scale(1 1.1) translate(-1163 -1026.34)">M-CTRL</text>
<line x1="1263.35" y1="785.7" x2="1263.35" y2="770" stroke="#000" stroke-width="2.2" stroke-linecap="butt"/>
<line x1="1246.85" y1="770" x2="1279.85" y2="770" stroke="#000" stroke-width="2.2" stroke-linecap="butt"/>
<rect x="1231.1" y="785.7" width="64.5" height="210.9" fill="#579FFD"/>
<path d="M1231.1 996.6V785.7H1295.6V996.6" fill="none" stroke="#000" stroke-width="2.3" stroke-linejoin="miter"/>
<line x1="1263.35" y1="996.6" x2="1263.35" y2="1004.1" stroke="#000" stroke-width="2" stroke-linecap="butt"/>
<text x="1263.35" y="1033.9" font-size="21" font-weight="bold" text-anchor="middle" fill="#000" letter-spacing="0.1" transform="translate(1263.35 1026.34) scale(1 1.1) translate(-1263.35 -1026.34)">M-HFS</text>
<line x1="912.1" y1="694.68" x2="912.1" y2="997.6" stroke="#000" stroke-width="2.2" stroke-linecap="butt"/>
<line x1="904" y1="996.6" x2="1313" y2="996.6" stroke="#000" stroke-width="2.2" stroke-linecap="butt"/>
<line x1="904" y1="996.6" x2="912.1" y2="996.6" stroke="#000" stroke-width="2.2" stroke-linecap="butt"/>
<text x="889.6" y="1003.5" font-size="20.5" font-weight="bold" text-anchor="start" fill="#000" transform="translate(889.6 996.12) scale(1 1.07) translate(-889.6 -996.12)">0</text>
<line x1="904" y1="963.16" x2="912.1" y2="963.16" stroke="#000" stroke-width="2.2" stroke-linecap="butt"/>
<text x="889.6" y="970.06" font-size="20.5" font-weight="bold" text-anchor="start" fill="#000" transform="translate(889.6 962.68) scale(1 1.07) translate(-889.6 -962.68)">5</text>
<line x1="904" y1="929.73" x2="912.1" y2="929.73" stroke="#000" stroke-width="2.2" stroke-linecap="butt"/>
<path d="M886.51 937.15V921.73H884.15C883.33 923.55 881.59 925.08 879.6 926.07V928.86C881.28 928.15 882.61 927.28 883.7 926.4V937.15Z" fill="#000"/>
<text x="889.6" y="936.63" font-size="20.5" font-weight="bold" text-anchor="start" fill="#000" transform="translate(889.6 929.25) scale(1 1.07) translate(-889.6 -929.25)">0</text>
<line x1="904" y1="896.3" x2="912.1" y2="896.3" stroke="#000" stroke-width="2.2" stroke-linecap="butt"/>
<path d="M886.51 903.71V888.29H884.15C883.33 890.11 881.59 891.65 879.6 892.63V895.42C881.28 894.72 882.61 893.84 883.7 892.96V903.71Z" fill="#000"/>
<text x="889.6" y="903.2" font-size="20.5" font-weight="bold" text-anchor="start" fill="#000" transform="translate(889.6 895.82) scale(1 1.07) translate(-889.6 -895.82)">5</text>
<line x1="904" y1="862.86" x2="912.1" y2="862.86" stroke="#000" stroke-width="2.2" stroke-linecap="butt"/>
<text x="878.2" y="869.76" font-size="20.5" font-weight="bold" text-anchor="start" fill="#000" transform="translate(878.2 862.38) scale(1 1.07) translate(-878.2 -862.38)">2</text>
<text x="889.6" y="869.76" font-size="20.5" font-weight="bold" text-anchor="start" fill="#000" transform="translate(889.6 862.38) scale(1 1.07) translate(-889.6 -862.38)">0</text>
<line x1="904" y1="829.42" x2="912.1" y2="829.42" stroke="#000" stroke-width="2.2" stroke-linecap="butt"/>
<text x="878.2" y="836.32" font-size="20.5" font-weight="bold" text-anchor="start" fill="#000" transform="translate(878.2 828.94) scale(1 1.07) translate(-878.2 -828.94)">2</text>
<text x="889.6" y="836.32" font-size="20.5" font-weight="bold" text-anchor="start" fill="#000" transform="translate(889.6 828.94) scale(1 1.07) translate(-889.6 -828.94)">5</text>
<line x1="904" y1="795.99" x2="912.1" y2="795.99" stroke="#000" stroke-width="2.2" stroke-linecap="butt"/>
<text x="878.2" y="802.89" font-size="20.5" font-weight="bold" text-anchor="start" fill="#000" transform="translate(878.2 795.51) scale(1 1.07) translate(-878.2 -795.51)">3</text>
<text x="889.6" y="802.89" font-size="20.5" font-weight="bold" text-anchor="start" fill="#000" transform="translate(889.6 795.51) scale(1 1.07) translate(-889.6 -795.51)">0</text>
<line x1="904" y1="762.56" x2="912.1" y2="762.56" stroke="#000" stroke-width="2.2" stroke-linecap="butt"/>
<text x="878.2" y="769.46" font-size="20.5" font-weight="bold" text-anchor="start" fill="#000" transform="translate(878.2 762.08) scale(1 1.07) translate(-878.2 -762.08)">3</text>
<text x="889.6" y="769.46" font-size="20.5" font-weight="bold" text-anchor="start" fill="#000" transform="translate(889.6 762.08) scale(1 1.07) translate(-889.6 -762.08)">5</text>
<line x1="904" y1="729.12" x2="912.1" y2="729.12" stroke="#000" stroke-width="2.2" stroke-linecap="butt"/>
<text x="878.2" y="736.02" font-size="20.5" font-weight="bold" text-anchor="start" fill="#000" transform="translate(878.2 728.64) scale(1 1.07) translate(-878.2 -728.64)">4</text>
<text x="889.6" y="736.02" font-size="20.5" font-weight="bold" text-anchor="start" fill="#000" transform="translate(889.6 728.64) scale(1 1.07) translate(-889.6 -728.64)">0</text>
<line x1="904" y1="695.68" x2="912.1" y2="695.68" stroke="#000" stroke-width="2.2" stroke-linecap="butt"/>
<text x="878.2" y="702.58" font-size="20.5" font-weight="bold" text-anchor="start" fill="#000" transform="translate(878.2 695.2) scale(1 1.07) translate(-878.2 -695.2)">4</text>
<text x="889.6" y="702.58" font-size="20.5" font-weight="bold" text-anchor="start" fill="#000" transform="translate(889.6 695.2) scale(1 1.07) translate(-889.6 -695.2)">5</text>
<text x="864.5" y="844.5" font-size="21" font-weight="bold" text-anchor="middle" fill="#000" transform="rotate(-90 864.5 844.5)">Leptin (ng/mL)</text>
<path d="M1063.05 859.3L1063.6 850.5L1060.2 850.5L1060.75 859.3ZM1062.26 860.39L1070.41 858.32L1069.36 855.09L1061.54 858.21ZM1060.97 859.98L1065.52 867.18L1068.27 865.18L1062.83 858.62ZM1060.97 858.62L1055.53 865.18L1058.28 867.18L1062.83 859.98ZM1062.26 858.21L1054.44 855.09L1053.39 858.32L1061.54 860.39Z" fill="#000"/>
<circle cx="1061.9" cy="859.3" r="1.3" fill="#000"/>
<path d="M815 295C780 225 720 190 645 190C545 190 475 245 475 315C475 380 530 420 600 462L790 575C845 610 870 645 870 690C870 745 830 785 770 800M560 445C480 480 430 530 430 590C430 650 470 690 540 730L740 845C805 885 840 920 840 975C840 1050 760 1100 655 1100C560 1100 500 1050 470 950" fill="none" stroke="#000" stroke-width="68" transform="translate(1144 835) scale(0.029762)"/>
<path d="M1253.84 721.6V748.4" stroke="#000" stroke-width="2.3"/>
<path d="M1247 728.6H1261.1" stroke="#000" stroke-width="2.2"/>
<path d="M1271.6 721.6V748.4" stroke="#000" stroke-width="2.3"/>
<path d="M1264.5 728.6H1278.7M1264.5 741.8H1278.7" stroke="#000" stroke-width="2.2"/>
<text x="23.6" y="1212.8" font-size="45" font-weight="bold" text-anchor="start" fill="#000" transform="translate(23.6 1196.6) scale(0.97 1.0) translate(-23.6 -1196.6)">E</text>
<line x1="185.9" y1="1422.3" x2="185.9" y2="1412.3" stroke="#444" stroke-width="1.5" stroke-linecap="butt"/>
<line x1="169.05" y1="1412.3" x2="202.75" y2="1412.3" stroke="#444" stroke-width="1.5" stroke-linecap="butt"/>
<rect x="154.4" y="1422.3" width="63" height="132.2" fill="#FDDFC0"/>
<path d="M154.4 1554.5V1422.3H217.4V1554.5" fill="none" stroke="#000" stroke-width="2.4" stroke-linejoin="miter"/>
<line x1="185.9" y1="1554.5" x2="185.9" y2="1564.5" stroke="#000" stroke-width="1.8" stroke-linecap="butt"/>
<text x="185.9" y="1585.9" font-size="19.5" font-weight="normal" text-anchor="middle" fill="#000" letter-spacing="1.2" stroke="#000" stroke-width="0.8">F-CTRL</text>
<line x1="284.77" y1="1332.5" x2="284.77" y2="1320.7" stroke="#444" stroke-width="1.5" stroke-linecap="butt"/>
<line x1="267.92" y1="1320.7" x2="301.62" y2="1320.7" stroke="#444" stroke-width="1.5" stroke-linecap="butt"/>
<rect x="253.27" y="1332.5" width="63" height="222" fill="#FD9E3F"/>
<path d="M253.27 1554.5V1332.5H316.27V1554.5" fill="none" stroke="#000" stroke-width="2.4" stroke-linejoin="miter"/>
<line x1="284.77" y1="1554.5" x2="284.77" y2="1564.5" stroke="#000" stroke-width="1.8" stroke-linecap="butt"/>
<text x="284.77" y="1585.9" font-size="19.5" font-weight="normal" text-anchor="middle" fill="#000" letter-spacing="1.2" stroke="#000" stroke-width="0.8">F-HFS</text>
<line x1="383.64" y1="1406.5" x2="383.64" y2="1399.3" stroke="#444" stroke-width="1.5" stroke-linecap="butt"/>
<line x1="366.79" y1="1399.3" x2="400.49" y2="1399.3" stroke="#444" stroke-width="1.5" stroke-linecap="butt"/>
<rect x="352.14" y="1406.5" width="63" height="148" fill="#C7DCF5"/>
<path d="M352.14 1554.5V1406.5H415.14V1554.5" fill="none" stroke="#000" stroke-width="2.4" stroke-linejoin="miter"/>
<line x1="383.64" y1="1554.5" x2="383.64" y2="1564.5" stroke="#000" stroke-width="1.8" stroke-linecap="butt"/>
<text x="383.64" y="1585.9" font-size="19.5" font-weight="normal" text-anchor="middle" fill="#000" letter-spacing="1.2" stroke="#000" stroke-width="0.8">M-CTRL</text>
<line x1="482.51" y1="1372.5" x2="482.51" y2="1363.3" stroke="#444" stroke-width="1.5" stroke-linecap="butt"/>
<line x1="465.66" y1="1363.3" x2="499.36" y2="1363.3" stroke="#444" stroke-width="1.5" stroke-linecap="butt"/>
<rect x="451.01" y="1372.5" width="63" height="182" fill="#579FFD"/>
<path d="M451.01 1554.5V1372.5H514.01V1554.5" fill="none" stroke="#000" stroke-width="2.4" stroke-linejoin="miter"/>
<line x1="482.51" y1="1554.5" x2="482.51" y2="1564.5" stroke="#000" stroke-width="1.8" stroke-linecap="butt"/>
<text x="482.51" y="1585.9" font-size="19.5" font-weight="normal" text-anchor="middle" fill="#000" letter-spacing="1.2" stroke="#000" stroke-width="0.8">M-HFS</text>
<line x1="120.2" y1="1256.99" x2="120.2" y2="1555.5" stroke="#000" stroke-width="2" stroke-linecap="butt"/>
<line x1="109.8" y1="1554.5" x2="550" y2="1554.5" stroke="#000" stroke-width="2" stroke-linecap="butt"/>
<line x1="109.8" y1="1554.5" x2="120.2" y2="1554.5" stroke="#000" stroke-width="2" stroke-linecap="butt"/>
<text x="96.04" y="1560.9" font-size="19" font-weight="bold" text-anchor="start" fill="#000" transform="translate(96.04 1554.06) scale(1 1.07) translate(-96.04 -1554.06)">0</text>
<line x1="109.8" y1="1455.66" x2="120.2" y2="1455.66" stroke="#000" stroke-width="2" stroke-linecap="butt"/>
<text x="96.04" y="1462.07" font-size="19" font-weight="bold" text-anchor="start" fill="#000" transform="translate(96.04 1455.23) scale(1 1.07) translate(-96.04 -1455.23)">5</text>
<line x1="109.8" y1="1356.83" x2="120.2" y2="1356.83" stroke="#000" stroke-width="2" stroke-linecap="butt"/>
<path d="M93.17 1363.71V1349.42H90.98C90.22 1351.1 88.61 1352.53 86.76 1353.44V1356.02C88.32 1355.37 89.56 1354.56 90.56 1353.75V1363.71Z" fill="#000"/>
<text x="96.04" y="1363.23" font-size="19" font-weight="bold" text-anchor="start" fill="#000" transform="translate(96.04 1356.39) scale(1 1.07) translate(-96.04 -1356.39)">0</text>
<line x1="109.8" y1="1257.99" x2="120.2" y2="1257.99" stroke="#000" stroke-width="2" stroke-linecap="butt"/>
<path d="M93.17 1264.87V1250.58H90.98C90.22 1252.27 88.61 1253.69 86.76 1254.61V1257.19C88.32 1256.54 89.56 1255.73 90.56 1254.91V1264.87Z" fill="#000"/>
<text x="96.04" y="1264.39" font-size="19" font-weight="bold" text-anchor="start" fill="#000" transform="translate(96.04 1257.56) scale(1 1.07) translate(-96.04 -1257.56)">5</text>
<text x="72.4" y="1405.5" font-size="20" font-weight="normal" text-anchor="middle" fill="#000" letter-spacing="0.5" transform="rotate(-90 72.4 1405.5)" stroke="#000" stroke-width="0.5">AUC IPGTT (mM/min)</text>
<path d="M285.75 1270.7L286.3 1261.9L282.9 1261.9L283.45 1270.7ZM284.96 1271.79L293.11 1269.72L292.06 1266.49L284.24 1269.61ZM283.67 1271.38L288.22 1278.58L290.97 1276.58L285.53 1270.02ZM283.67 1270.02L278.23 1276.58L280.98 1278.58L285.53 1271.38ZM284.96 1269.61L277.14 1266.49L276.09 1269.72L284.24 1271.79Z" fill="#000"/>
<circle cx="284.6" cy="1270.7" r="1.3" fill="#000"/>
<path d="M473.2 1317.6V1343.5" stroke="#000" stroke-width="2.3"/>
<path d="M465.9 1324.1H480.1" stroke="#000" stroke-width="2.2"/>
<path d="M490.9 1317.6V1343.5" stroke="#000" stroke-width="2.3"/>
<path d="M483.6 1324.1H497.8M483.6 1337.5H497.8" stroke="#000" stroke-width="2.2"/>
</svg></body></html>
